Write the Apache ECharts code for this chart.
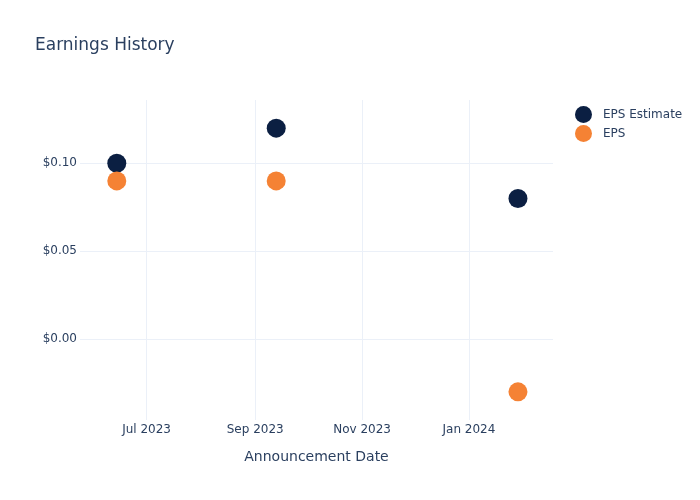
<!DOCTYPE html>
<html>
<head>
<meta charset="utf-8">
<script src="https://cdn.jsdelivr.net/npm/echarts@6/dist/echarts.min.js"></script>
<style>html,body{margin:0;padding:0;background:#fff}#c{width:700px;height:500px}</style>
</head>
<body>
<div id="c"></div>
<script>
const dates = ['2023-06-14', '2023-09-13', '2024-01-29'];
const epsEstimate = [0.10, 0.12, 0.08];
const eps = [0.09, 0.09, -0.03];
const xTicks = ['2023-07-01', '2023-09-01', '2023-11-01', '2024-01-01'];
const yTicks = [0, 0.05, 0.10];
const xRange = ['2023-05-24', '2024-02-18'];
const yRange = [-0.046, 0.136];

function toTs(s) { const p = s.split('-').map(Number); return new Date(p[0], p[1]-1, p[2]).getTime(); }
const months = ['Jan','Feb','Mar','Apr','May','Jun','Jul','Aug','Sep','Oct','Nov','Dec'];
const font = 'DejaVu Sans';
const txt = '#2a3f5f';
const grid = '#ebf0f8';

const chart = echarts.init(document.getElementById('c'), null, {renderer: 'canvas'});
chart.setOption({
  animation: false,
  backgroundColor: '#fff',
  title: {
    text: 'Earnings History', left: 30, top: 32,
    textStyle: {fontFamily: font, fontSize: 17, fontWeight: 'normal', color: txt}
  },
  legend: {
    orient: 'vertical', left: 570, top: 101, itemGap: 2,
    icon: 'circle', itemWidth: 17, itemHeight: 17,
    textStyle: {fontFamily: font, fontSize: 12, color: txt, padding: [0, 0, 0, 6]},
    data: ['EPS Estimate', 'EPS']
  },
  grid: {left: 80, right: 147, top: 100, bottom: 80, containLabel: false},
  xAxis: {
    type: 'value',
    min: toTs(xRange[0]), max: toTs(xRange[1]),
    name: 'Announcement Date', nameLocation: 'middle', nameGap: 30,
    nameTextStyle: {fontFamily: font, fontSize: 14, color: txt},
    axisLine: {show: false},
    axisTick: {show: false, customValues: xTicks.map(toTs)},
    axisLabel: {
      customValues: xTicks.map(toTs),
      fontFamily: font, fontSize: 12, color: txt, margin: 4,
      formatter: function (v) { const d = new Date(v); return months[d.getMonth()] + ' ' + d.getFullYear(); }
    },
    splitLine: {show: true, lineStyle: {color: grid, width: 1}}
  },
  yAxis: {
    type: 'value', min: yRange[0], max: yRange[1],
    axisLine: {show: false},
    axisTick: {show: false, customValues: yTicks},
    axisLabel: {
      customValues: yTicks,
      fontFamily: font, fontSize: 12, color: txt, margin: 3,
      formatter: function (v) { return '$' + v.toFixed(2); }
    },
    splitLine: {show: true, lineStyle: {color: grid, width: 1}}
  },
  series: [
    {
      name: 'EPS Estimate', type: 'scatter', symbolSize: 19,
      itemStyle: {color: '#0b1f42', opacity: 1},
      data: dates.map((d, i) => [toTs(d), epsEstimate[i]])
    },
    {
      name: 'EPS', type: 'scatter', symbolSize: 19,
      itemStyle: {color: '#f58234', opacity: 1},
      data: dates.map((d, i) => [toTs(d), eps[i]])
    }
  ]
});
</script>
</body>
</html>
